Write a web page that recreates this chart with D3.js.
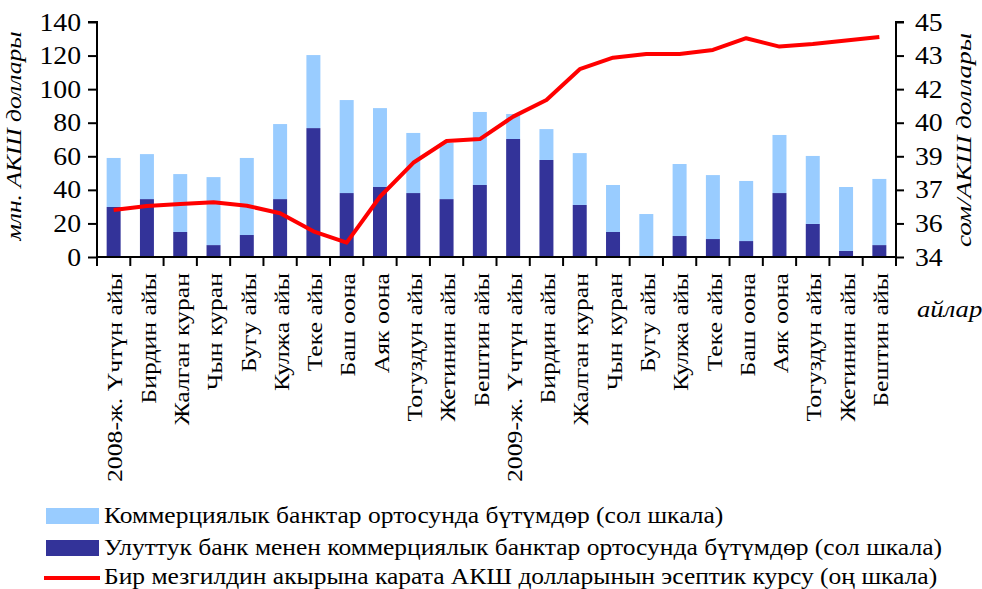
<!DOCTYPE html>
<html>
<head>
<meta charset="utf-8">
<script src="https://cdn.jsdelivr.net/npm/d3@7"></script>
<style>
  body { margin: 0; background: #fff; }
  svg text { font-family: 'Liberation Serif', 'DejaVu Serif', serif; fill: #000; }
</style>
</head>
<body>
<svg id="mainsvg" width="982" height="589"></svg>
<script>
const months = [
  '2008-ж. Үчтүн айы', 'Бирдин айы', 'Жалган куран', 'Чын куран', 'Бугу айы', 'Кулжа айы',
  'Теке айы', 'Баш оона', 'Аяк оона', 'Тогуздун айы', 'Жетинин айы', 'Бештин айы',
  '2009-ж. Үчтүн айы', 'Бирдин айы', 'Жалган куран', 'Чын куран', 'Бугу айы', 'Кулжа айы',
  'Теке айы', 'Баш оона', 'Аяк оона', 'Тогуздун айы', 'Жетинин айы', 'Бештин айы'
];
// Улуттук банк менен коммерциялык банктар ортосунда бүтүмдөр
const nbkr = [29.8, 34.5, 14.9, 7.1, 13.1, 34.5, 76.8, 38.1, 41.7, 38.1, 34.5, 42.9,
  70.3, 57.8, 31.0, 14.9, 0, 12.5, 10.7, 9.5, 38.1, 19.7, 3.6, 7.1];
// Коммерциялык банктар ортосунда бүтүмдөр
const commercial = [29.2, 26.8, 34.5, 40.5, 45.9, 44.7, 43.5, 55.4, 47.0, 35.8, 33.5, 43.5,
  14.9, 18.4, 30.9, 28.0, 25.6, 42.9, 38.1, 35.8, 34.6, 40.5, 38.1, 39.4];
// сом / АКШ доллары
const rate = [36.2, 36.39, 36.48, 36.56, 36.4, 36.05, 35.2, 34.67, 36.82, 38.41, 39.43, 39.52,
  40.57, 41.35, 42.79, 43.33, 43.5, 43.5, 43.69, 44.24, 43.85, 43.97, 44.13, 44.3];
const leftTicks = [0, 20, 40, 60, 80, 100, 120, 140];
const legendLabels = [
  'Коммерциялык банктар ортосунда бүтүмдөр (сол шкала)',
  'Улуттук банк менен коммерциялык банктар ортосунда бүтүмдөр (сол шкала)',
  'Бир мезгилдин акырына карата АКШ долларынын эсептик курсу (оң шкала)'
];

const lightBlue = '#99ccff';
const darkBlue = '#333399';
const red = '#ff0000';
const serif = "'Liberation Serif', 'DejaVu Serif', serif";
// the source font runs wider than Liberation Serif
const wide = 1.11;
const wideRot = 1.17;

const svg = d3.select('#mainsvg').attr('font-family', serif);
const margin = { top: 22, left: 97, right: 86, bottom: 332 };
const width = +svg.attr('width');
const height = +svg.attr('height');
const innerWidth = width - margin.left - margin.right;
const innerHeight = height - margin.top - margin.bottom;

const data = months.map((m, i) => ({ i, m, nbkr: nbkr[i], commercial: commercial[i], rate: rate[i] }));

const xScale = d3.scaleBand()
  .domain(d3.range(months.length))
  .range([0, innerWidth])
  .paddingInner(0.58)
  .paddingOuter(0.29);
const step = xScale.step();

const yLeft = d3.scaleLinear().domain([0, 140]).range([innerHeight, 0]);
const yRight = d3.scaleLinear().domain([34, 45]).range([innerHeight, 0]);

const g = svg.append('g')
  .attr('id', 'maingroup')
  .attr('transform', `translate(${margin.left}, ${margin.top})`);

// stacked bars
const stack = d3.stack().keys(['nbkr', 'commercial'])(data);
const colors = { nbkr: darkBlue, commercial: lightBlue };
g.selectAll('.series')
  .data(stack)
  .join('g')
  .attr('fill', s => colors[s.key])
  .selectAll('rect')
  .data(s => s)
  .join('rect')
  .attr('x', d => xScale(d.data.i))
  .attr('width', xScale.bandwidth())
  .attr('y', d => yLeft(d[1]))
  .attr('height', d => yLeft(d[0]) - yLeft(d[1]));

// exchange rate line
const line = d3.line()
  .x(d => xScale(d.i) + xScale.bandwidth() / 2)
  .y(d => yRight(d.rate));
g.append('path')
  .datum(data)
  .attr('d', line)
  .attr('fill', 'none')
  .attr('stroke', red)
  .attr('stroke-width', 4)
  .attr('stroke-linejoin', 'round');

// left axis
const leftAxis = d3.axisLeft(yLeft).tickValues(leftTicks).tickSize(9).tickPadding(7);
const la = g.append('g').call(leftAxis);

// right axis: 7 equal steps, labels rounded
const rightTicks = d3.range(8).map(k => 34 + k * 11 / 7);
const rightAxis = d3.axisRight(yRight).tickValues(rightTicks).tickSize(8)
  .tickPadding(11).tickFormat(d3.format('.0f'));
const ra = g.append('g').attr('transform', `translate(${innerWidth}, 0)`).call(rightAxis);

[la, ra].forEach(a => {
  a.attr('font-family', serif);
  a.select('.domain').attr('stroke-width', 2);
  a.selectAll('.tick line').attr('stroke-width', 2);
  a.selectAll('.tick text').attr('font-size', 25);
});
la.select('.domain').attr('d', `M-9,0H0V${innerHeight}`);
ra.select('.domain').attr('d', `M8,0H0V${innerHeight}`);
la.selectAll('.tick text').attr('x', 0).attr('transform', `translate(-16, 0) scale(${wide}, 1)`);
ra.selectAll('.tick text').attr('x', 0).attr('transform', `translate(19, 0) scale(${wide}, 1)`);

// bottom axis
const ba = g.append('g').attr('transform', `translate(0, ${innerHeight})`);
ba.append('line').attr('x1', 0).attr('x2', innerWidth).attr('stroke', '#000').attr('stroke-width', 2);
ba.selectAll('line.tick')
  .data(d3.range(months.length + 1))
  .join('line')
  .attr('class', 'tick')
  .attr('x1', i => i * step).attr('x2', i => i * step)
  .attr('y1', 0).attr('y2', 9)
  .attr('stroke', '#000').attr('stroke-width', 2);
ba.selectAll('text')
  .data(data)
  .join('text')
  .attr('transform', d => `translate(${xScale(d.i) + xScale.bandwidth() / 2 + 1}, 16) rotate(-90) scale(${wideRot}, 1)`)
  .attr('text-anchor', 'end')
  .attr('dy', '0.35em')
  .attr('font-size', 22)
  .text(d => d.m);

// axis titles
g.append('text').text('млн. АКШ доллары')
  .attr('transform', `translate(${-76}, ${114}) rotate(-90)`)
  .attr('text-anchor', 'middle')
  .attr('font-style', 'italic')
  .attr('font-size', 22)
  .attr('textLength', 209)
  .attr('lengthAdjust', 'spacingAndGlyphs');
g.append('text').text('сом/АКШ доллары')
  .attr('transform', `translate(${innerWidth + 75}, ${118}) rotate(-90)`)
  .attr('text-anchor', 'middle')
  .attr('font-style', 'italic')
  .attr('font-size', 22)
  .attr('textLength', 214)
  .attr('lengthAdjust', 'spacingAndGlyphs');
g.append('text').text('айлар')
  .attr('transform', `translate(${innerWidth + 21}, 295) scale(${wide}, 1)`)
  .attr('font-style', 'italic')
  .attr('font-size', 24);

// legend
const legend = svg.append('g').attr('transform', 'translate(46, 508)');
const rows = legend.selectAll('g')
  .data(legendLabels)
  .join('g')
  .attr('transform', (d, i) => `translate(0, ${[0, 32, 61][i]})`);
rows.each(function (d, i) {
  const r = d3.select(this);
  if (i < 2) {
    r.append('rect').attr('width', 53).attr('height', 16).attr('fill', i === 0 ? lightBlue : darkBlue);
  } else {
    r.append('line').attr('x1', -2).attr('x2', 54).attr('y1', 9).attr('y2', 9)
      .attr('stroke', red).attr('stroke-width', 4);
  }
  r.append('text')
    .attr('transform', `translate(58, 15) scale(${wide}, 1)`)
    .attr('font-size', 23)
    .text(d);
});
</script>
</body>
</html>
